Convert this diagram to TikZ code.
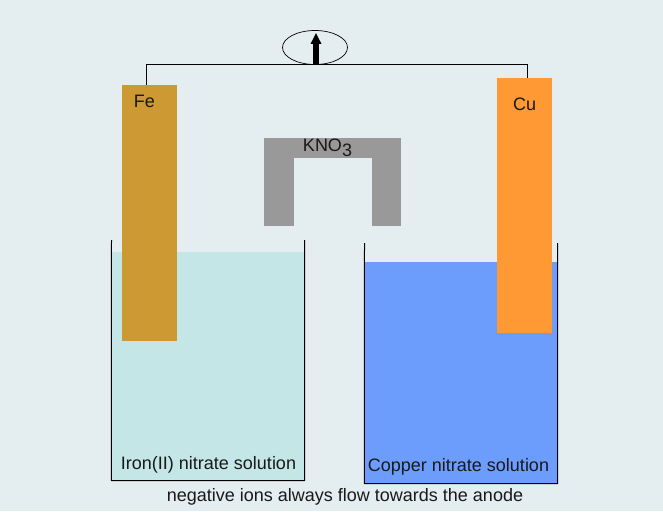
\documentclass[tikz,border=0pt]{standalone}
\usepackage{fontspec}
\setmainfont{Liberation Sans}
\usetikzlibrary{shapes,arrows.meta}
\definecolor{fond}{HTML}{E4EEF0}
\definecolor{ironblue}{HTML}{C4E6E6}
\definecolor{copperblue}{HTML}{6C9CFC}
\definecolor{ferbrun}{HTML}{CC9933}
\definecolor{cuorange}{HTML}{FF9933}
\definecolor{pontgris}{HTML}{999999}

\begin{document}
\begin{tikzpicture}[x=1pt,y=-1pt,font=\fontsize{18}{20}\selectfont]
 % style des noeuds
  \tikzstyle{bloc}=[rectangle,inner sep=0pt]
  \tikzstyle{txt}=[inner sep=0pt,text=black!90]
 % style des traits
  \tikzstyle{fil}=[line width=1pt]
  \tikzstyle{becher}=[line width=1pt]
 % fond
  \fill[fond] (0,0) rectangle (663,511);
  \useasboundingbox (0,0) rectangle (663,511);
 % solutions
  \node[bloc,fill=ironblue,minimum width=193pt,minimum height=228.5pt] (ironsol) at (208,366.25) {};
  \node[bloc,fill=copperblue,minimum width=193pt,minimum height=221.5pt] (coppersol) at (461,372.75) {};
 % electrodes
  \node[bloc,fill=ferbrun,minimum width=55pt,minimum height=256pt] (fe) at (149.5,213) {};
  \node[bloc,fill=cuorange,minimum width=55pt,minimum height=255pt] (cu) at (524.5,205.5) {};
 % pont salin
  \node[bloc,fill=pontgris,minimum width=137pt,minimum height=20pt] (kno) at (332.5,148) {};
  \node[bloc,fill=pontgris,minimum width=30pt,minimum height=68pt] (legleft) at (279,192) {};
  \node[bloc,fill=pontgris,minimum width=29pt,minimum height=68pt] (legright) at (386.5,192) {};
 % appareil de mesure
  \node[ellipse,draw,line width=0.7pt,inner sep=0pt,minimum width=65pt,minimum height=34pt] (meter) at (315,47.5) {};
 % textes
  \node[txt] (felabel) at (144.5,101) {Fe};
  \node[txt] (culabel) at (524.5,104) {Cu};
  \node[txt] (knolabel) at (327.5,148) {KNO\raisebox{-5pt}{3}};
  \node[txt] (ironlabel) at (208.5,465) {Iron(II) nitrate solution};
  \node[txt] (copperlabel) at (458.5,467) {Copper nitrate solution};
  \node[txt] (caption) at (345,497) {negative ions always flow towards the anode};
 % becher
  \coordinate (irontop1) at (111.5,240);
  \coordinate (irontop2) at (304.5,240);
  \coordinate (coppertop1) at (364.5,243);
  \coordinate (coppertop2) at (557.5,243);
  \draw[becher] (irontop1) -- (ironsol.south west) -- (ironsol.south east) -- (irontop2);
  \draw[becher] (coppertop1) -- (coppersol.south west) -- (coppersol.south east) -- (coppertop2);
 % fils et fleche
  \draw[fil] ([xshift=-3pt]fe.north) |- (meter.south) -| ([xshift=3pt]cu.north);
  \draw[-{Triangle[width=10pt,length=11pt]},line width=6pt] (meter.south) ++(1,0) -- ++(0,-32);
\end{tikzpicture}
\end{document}
